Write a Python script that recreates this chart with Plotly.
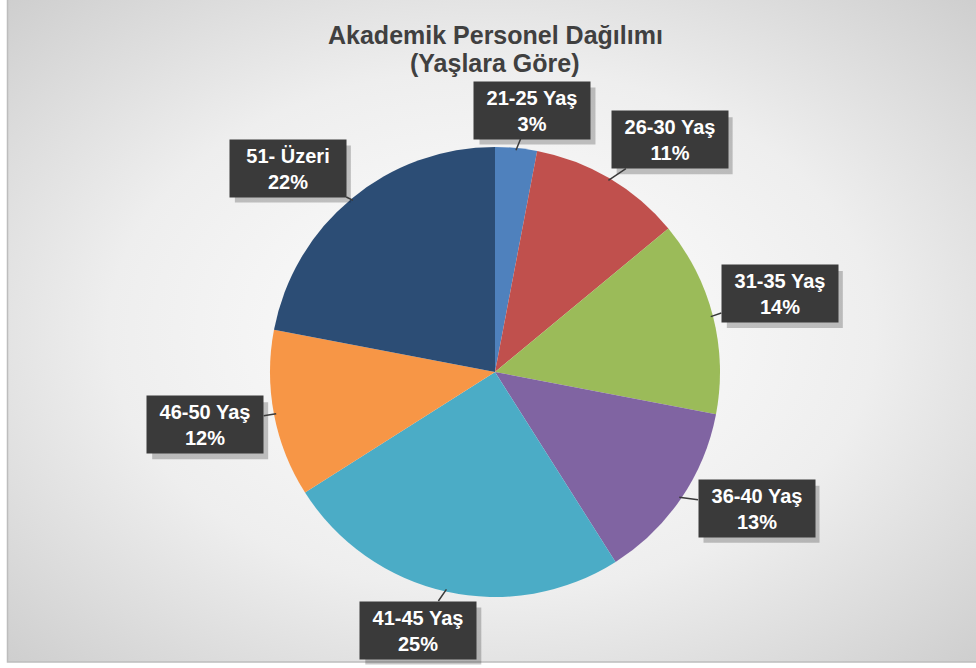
import base64, math
import plotly.graph_objects as go

categories = ["21-25 Yaş", "26-30 Yaş", "31-35 Yaş", "36-40 Yaş", "41-45 Yaş", "46-50 Yaş", "51- Üzeri"]
values = [3, 11, 14, 13, 25, 12, 22]
colors = ["#4F81BD", "#C0504D", "#9BBB59", "#8064A2", "#4BACC6", "#F79646", "#2C4D75"]
title_lines = ["Akademik Personel Dağılımı", "(Yaşlara Göre)"]

# layout-only nudges for the callout boxes (pixels)
label_nudge = [(10, 0), (26, 19), (2, -6), (20, -28), (-13, 0), (-3, -2), (-21, 21)]

W, H = 976, 668
cx, cy, r = 495, 372, 225
BW, BH = 116, 57

fig = go.Figure()
fig.add_trace(go.Pie(
    labels=categories, values=values, sort=False, direction="clockwise", rotation=0,
    marker=dict(colors=colors, line=dict(width=0)),
    textinfo="none", hoverinfo="label+percent", showlegend=False,
    domain=dict(x=[(cx - r) / W, (cx + r) / W], y=[1 - (cy + r) / H, 1 - (cy - r) / H]),
))

svg = ('<svg xmlns="http://www.w3.org/2000/svg" width="968" height="662" viewBox="0 0 968 662" '
       'preserveAspectRatio="none"><defs><radialGradient id="g" cx="50%" cy="50%" r="72%">'
       '<stop offset="0%" stop-color="#ffffff"/><stop offset="55%" stop-color="#eeeeee"/>'
       '<stop offset="100%" stop-color="#cdcdcd"/></radialGradient></defs>'
       '<rect width="968" height="662" fill="url(#g)"/></svg>')
src = "data:image/svg+xml;base64," + base64.b64encode(svg.encode()).decode()

font_lbl = dict(family="Liberation Sans, Arial", size=20, color="white")
total = sum(values)
annotations = []
shapes = [dict(type="rect", xref="paper", yref="paper", x0=7.5 / W, x1=1.01, y0=1 - 662 / H, y1=1.01,
               line=dict(color="#bdbdbd", width=1.5), layer="below")]
cum = 0
for lab, v, (ndx, ndy) in zip(categories, values, label_nudge):
    mid = (cum + v / 2) / total * 2 * math.pi
    cum += v
    ex = cx + r * 0.99 * math.sin(mid)
    ey = cy - r * 0.99 * math.cos(mid)
    R = 292
    bx = cx + R * math.sin(mid)
    by = min(max(cy - R * math.cos(mid), 110), 630)
    bx += ndx
    by += ndy
    pct = round(v / total * 100)
    shapes.append(dict(type="rect", xref="paper", yref="paper",
                       x0=(bx - BW / 2 + 5) / W, x1=(bx + BW / 2 + 5) / W,
                       y0=1 - (by + BH / 2 + 6) / H, y1=1 - (by - BH / 2 + 6) / H,
                       fillcolor="rgba(0,0,0,0.22)", line=dict(width=0)))
    annotations.append(dict(x=ex / W, y=1 - ey / H, xref="paper", yref="paper",
                            text=f"<b>{lab}<br>{pct}%</b>",
                            showarrow=True, arrowhead=0, ax=bx - ex, ay=by - ey,
                            width=BW - 6, height=BH - 6, borderpad=3,
                            bgcolor="#3a3a3a", arrowcolor="#3a3a3a", arrowwidth=1.5,
                            font=font_lbl))

for i, (t, ypx) in enumerate(zip(title_lines, [35, 63])):
    annotations.append(dict(x=495 / W, y=1 - ypx / H, xref="paper", yref="paper", showarrow=False,
                            text=f"<b>{t}</b>", xanchor="center", yanchor="middle",
                            font=dict(family="Liberation Sans, Arial", size=25, color="#404040")))

fig.update_layout(
    width=W, height=H, autosize=False,
    margin=dict(l=0, r=0, t=0, b=0),
    paper_bgcolor="white",
    images=[dict(source=src, xref="paper", yref="paper", x=8 / W, y=1, sizex=968 / W, sizey=662 / H,
                 xanchor="left", yanchor="top", sizing="stretch", layer="below")],
    shapes=shapes,
    annotations=annotations,
)

fig.write_html("out.html", config={"displayModeBar": False},
               post_script="document.body.style.margin='0px';")
